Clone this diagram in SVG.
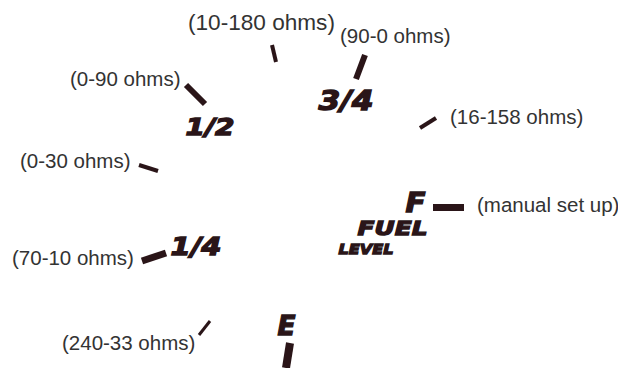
<svg xmlns="http://www.w3.org/2000/svg" width="618" height="368" viewBox="0 0 618 368">
<style>
.lbl{font-family:"Liberation Sans",Arial,sans-serif;font-size:20.5px;fill:#333333}
.big{font-family:"DejaVu Sans",sans-serif;font-weight:bold;font-style:italic;fill:#2a1518;stroke:#2a1518;stroke-width:1.3px;stroke-linejoin:miter}
.tk{stroke:#2a1518;stroke-linecap:butt;fill:none}
</style>
<rect width="618" height="368" fill="#ffffff"/>
<g id="mark-10-180">
<text class="lbl" x="188" y="30" style="font-size:22.6px">(10-180 ohms)</text>
</g>
<g id="mark-0-90">
<text class="lbl" x="70" y="86">(0-90 ohms)</text>
</g>
<g id="mark-0-30">
<text class="lbl" x="20" y="168">(0-30 ohms)</text>
</g>
<g id="mark-90-0">
<text class="lbl" x="340" y="43">(90-0 ohms)</text>
</g>
<g id="mark-16-158">
<text class="lbl" x="450" y="124">(16-158 ohms)</text>
</g>
<g id="mark-70-10">
<text class="lbl" x="12" y="265">(70-10 ohms)</text>
</g>
<g id="mark-240-33">
<text class="lbl" x="62" y="350">(240-33 ohms)</text>
</g>
<g id="mark-manual">
<text class="lbl" x="477" y="212">(manual set up)</text>
</g>
<g id="scale-labels">
<text class="big" x="185.5" y="134.5" font-size="22.5" textLength="49" lengthAdjust="spacingAndGlyphs">1/2</text>
<text class="big" x="318.5" y="109.5" font-size="26.5" textLength="55" lengthAdjust="spacingAndGlyphs">3/4</text>
<text class="big" x="170.5" y="254.5" font-size="24" textLength="51" lengthAdjust="spacingAndGlyphs">1/4</text>
<text class="big" x="405.5" y="211.5" font-size="26.5" textLength="20" lengthAdjust="spacingAndGlyphs">F</text>
<text class="big" x="357.5" y="234.5" font-size="20" textLength="70" lengthAdjust="spacingAndGlyphs">FUEL</text>
<text class="big" x="338.5" y="253.5" font-size="14.5" textLength="55" lengthAdjust="spacingAndGlyphs">LEVEL</text>
<text class="big" x="277.5" y="334.5" font-size="26.5" textLength="18" lengthAdjust="spacingAndGlyphs">E</text>
</g>
<g id="connectors">
<line class="tk" x1="272" y1="45" x2="276" y2="62" stroke-width="4"/>
<line class="tk" x1="186" y1="85" x2="205" y2="104" stroke-width="6"/>
<line class="tk" x1="139" y1="165" x2="158" y2="171" stroke-width="4"/>
<line class="tk" x1="365" y1="55" x2="356" y2="79" stroke-width="6"/>
<line class="tk" x1="420" y1="128" x2="436" y2="118" stroke-width="4"/>
<line class="tk" x1="142" y1="261" x2="166" y2="253" stroke-width="7"/>
<line class="tk" x1="199" y1="335" x2="210" y2="321" stroke-width="3"/>
<line class="tk" x1="433" y1="207.5" x2="464" y2="207.5" stroke-width="7"/>
<line class="tk" x1="290" y1="343" x2="286" y2="368" stroke-width="8"/>
</g>
</svg>
